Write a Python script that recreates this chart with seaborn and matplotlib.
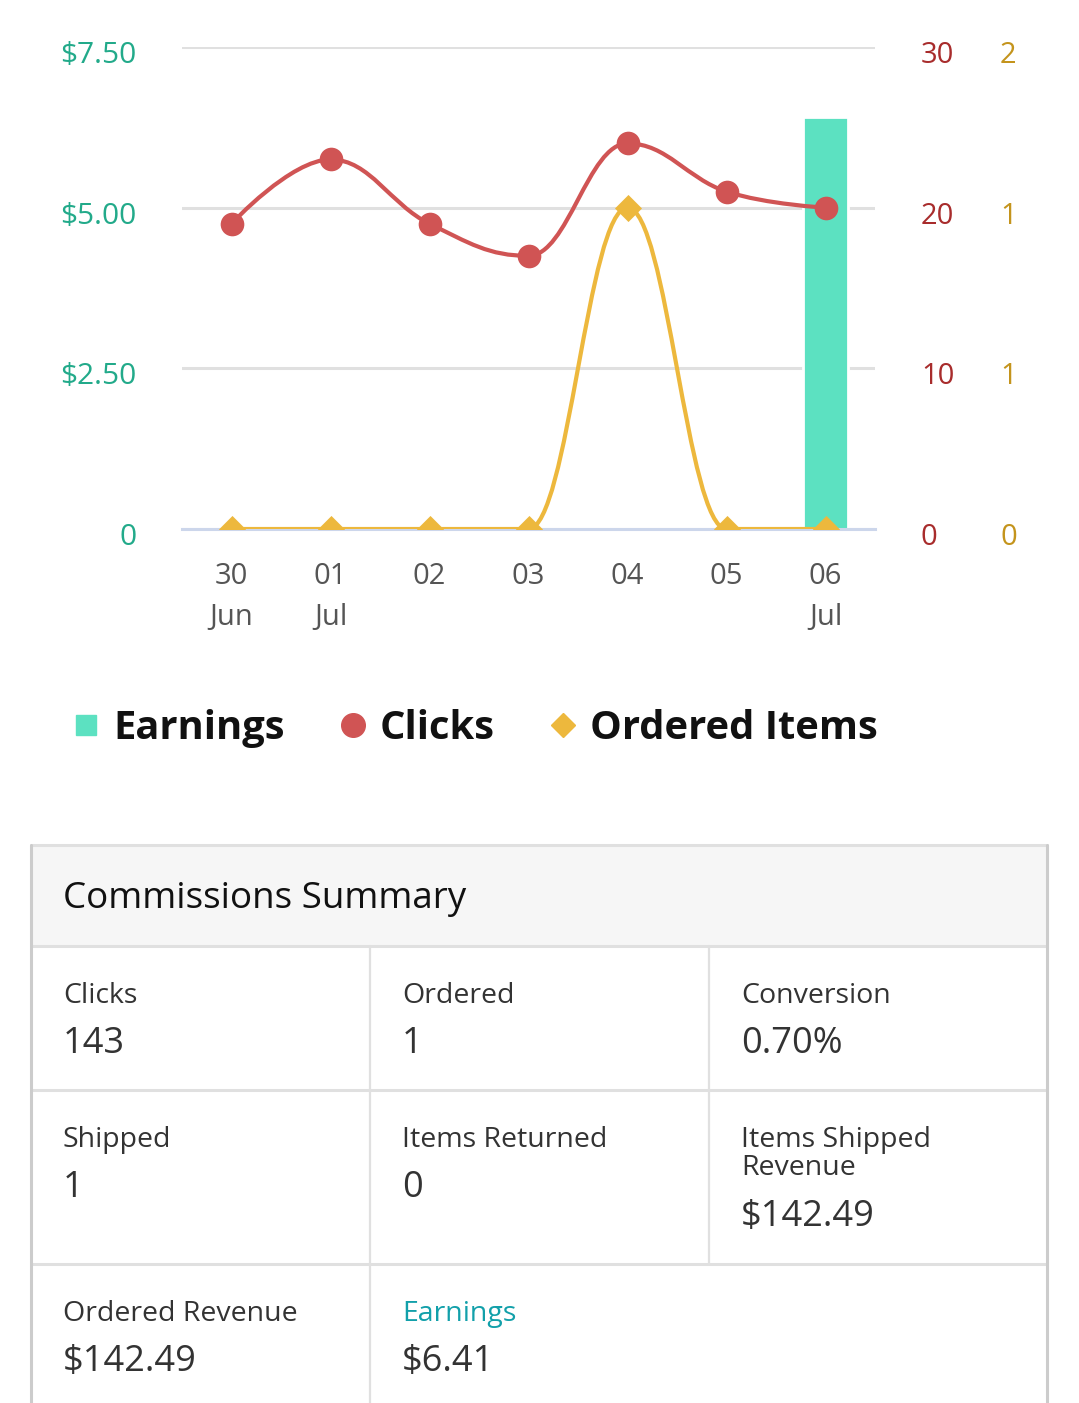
import numpy as np
import matplotlib
matplotlib.use("Agg")
import matplotlib.pyplot as plt
import matplotlib.transforms as mtransforms
import seaborn as sns
from matplotlib.path import Path
from matplotlib.patches import PathPatch, Rectangle
from matplotlib.lines import Line2D

# 数据
dates = ["30\nJun", "01\nJul", "02", "03", "04", "05", "06\nJul"]
earnings = [0, 0, 0, 0, 0, 0, 6.41]
clicks = [19, 23, 19, 17, 24, 21, 20]
ordered_items = [0, 0, 0, 0, 1, 0, 0]

earn_ticks = [0, 2.5, 5, 7.5]
earn_labels = ["0", "$2.50", "$5.00", "$7.50"]
click_ticks = [0, 10, 20, 30]
item_ticks = [0, 0.5, 1, 1.5]
item_labels = ["0", "1", "1", "2"]

summary_labels = ["Clicks", "Ordered", "Conversion",
                  "Shipped", "Items Returned", "Items Shipped\nRevenue",
                  "Ordered Revenue", "Earnings"]
summary_values = ["143", "1", "0.70%",
                  "1", "0", "$142.49",
                  "$142.49", "$6.41"]

# 颜色
c_bar = "#5ce1c1"
c_click = "#d05454"
c_item = "#edb83d"
c_left = "#22aa8a"
c_right1 = "#a82c2c"
c_right2 = "#c4941c"

sns.set_theme(style="white")
plt.rcParams["font.family"] = ["Open Sans", "DejaVu Sans"]

W, H = 1079, 1403
fig = plt.figure(figsize=(W / 100, H / 100), dpi=100)

top, bottom, left, right = 47, 529, 182, 875
ax = fig.add_axes([left / W, 1 - bottom / H, (right - left) / W, (bottom - top) / H])


def spline_path(xs, ys, smoothing=1.5):
    # highcharts 风格的平滑曲线控制点
    n = len(xs)
    lc = [None] * n
    rc = [None] * n
    den = smoothing + 1
    for i in range(1, n - 1):
        x, y = xs[i], ys[i]
        lx, ly = xs[i - 1], ys[i - 1]
        nx, ny = xs[i + 1], ys[i + 1]
        lcx = (smoothing * x + lx) / den
        lcy = (smoothing * y + ly) / den
        rcx = (smoothing * x + nx) / den
        rcy = (smoothing * y + ny) / den
        corr = (rcy - lcy) * (rcx - x) / (rcx - lcx) + y - rcy
        lcy += corr
        rcy += corr
        if lcy > ly and lcy > y:
            lcy = max(ly, y)
            rcy = 2 * y - lcy
        elif lcy < ly and lcy < y:
            lcy = min(ly, y)
            rcy = 2 * y - lcy
        if rcy > ny and rcy > y:
            rcy = max(ny, y)
            lcy = 2 * y - rcy
        elif rcy < ny and rcy < y:
            rcy = min(ny, y)
            lcy = 2 * y - rcy
        lc[i] = (lcx, lcy)
        rc[i] = (rcx, rcy)
    verts = [(xs[0], ys[0])]
    codes = [Path.MOVETO]
    for i in range(1, n):
        c1 = rc[i - 1] if rc[i - 1] is not None else (xs[i - 1], ys[i - 1])
        c2 = lc[i] if lc[i] is not None else (xs[i], ys[i])
        verts += [c1, c2, (xs[i], ys[i])]
        codes += [Path.CURVE4] * 3
    return Path(verts, codes)


def shift_ylabels(a, dy_px):
    off = mtransforms.ScaledTranslation(0, -dy_px / 100, fig.dpi_scale_trans)
    for t in a.yaxis.get_major_ticks():
        t.label1.set_transform(t.label1.get_transform() + off)
        t.label2.set_transform(t.label2.get_transform() + off)


xpos = list(range(len(dates)))

# 收益柱状图（左轴）
sns.barplot(x=dates, y=earnings, ax=ax, color=c_bar, width=0.45,
            edgecolor="white", linewidth=2, saturation=1)
ax.set_xlim(-0.5, 6.5)
ax.set_ylim(0, 7.5)
ax.set_yticks(earn_ticks)
ax.set_yticklabels(earn_labels)
ax.set_axisbelow(True)
ax.yaxis.grid(True, color="#e0e0e0", linewidth=2.2)
ax.xaxis.grid(False)
for s in ["top", "right", "left"]:
    ax.spines[s].set_visible(False)
ax.spines["bottom"].set_color("#ccd6eb")
ax.spines["bottom"].set_linewidth(2.2)
ax.spines["bottom"].set_zorder(5)
ax.set_xlabel("")
ax.set_ylabel("")
ax.tick_params(axis="y", length=0, pad=33, labelsize=21.5, labelcolor=c_left)
ax.tick_params(axis="x", length=0, pad=23.5, labelsize=21, labelcolor="#555555")
for lbl in ax.get_xticklabels():
    lbl.set_linespacing(1.56)

# 点击量（右轴1）
ax2 = ax.twinx()
ax2.set_ylim(0, 30)
ax2.add_patch(PathPatch(spline_path(xpos, clicks), fill=False, edgecolor=c_click,
                        linewidth=3, capstyle="round", joinstyle="round", zorder=3))
sns.scatterplot(x=xpos, y=clicks, ax=ax2, color=c_click, s=290, marker="o",
                linewidth=0, zorder=4, legend=False)
ax2.set_yticks(click_ticks)
ax2.set_yticklabels([str(t) for t in click_ticks])
ax2.tick_params(axis="y", length=0, pad=33, labelsize=21, labelcolor=c_right1)
ax2.grid(False)
for s in ax2.spines.values():
    s.set_visible(False)
ax2.set_ylabel("")

# 订购商品（右轴2）
ax3 = ax.twinx()
ax3.set_ylim(0, 1.5)
ax3.add_patch(PathPatch(spline_path(xpos, ordered_items), fill=False, edgecolor=c_item,
                        linewidth=3, capstyle="round", joinstyle="round", zorder=3))
sns.scatterplot(x=xpos, y=ordered_items, ax=ax3, color=c_item, s=190, marker="D",
                linewidth=0, zorder=4, legend=False)
ax3.set_yticks(item_ticks)
ax3.set_yticklabels(item_labels)
ax3.tick_params(axis="y", length=0, pad=90, labelsize=21, labelcolor=c_right2)
ax3.grid(False)
for s in ax3.spines.values():
    s.set_visible(False)
ax3.set_ylabel("")
ax3.set_xlim(-0.5, 6.5)

for a in (ax, ax2, ax3):
    shift_ylabels(a, 5)

# 图例
handles = [
    Line2D([], [], marker="s", linestyle="none", color=c_bar, markersize=14),
    Line2D([], [], marker="o", linestyle="none", color=c_click, markersize=17),
    Line2D([], [], marker="D", linestyle="none", color=c_item, markersize=12),
]
fig.legend(handles, ["Earnings", "Clicks", "Ordered Items"], ncol=3,
           loc="center", bbox_to_anchor=(476 / W, 1 - 728 / H), frameon=False,
           prop={"size": 28.7, "weight": "bold"}, labelcolor="#111111",
           handlelength=0.6, handletextpad=0.38, columnspacing=1.4, borderpad=0)

# 汇总表格
tab = fig.add_axes([0, 0, 1, 1], zorder=-1)
tab.set_xlim(0, W)
tab.set_ylim(H, 0)
tab.axis("off")

box_l, box_r = 31, 1047
head_t, head_b = 845, 946
row_lines = [946, 1090, 1264]
line_c = "#e0e0e0"

tab.add_patch(Rectangle((box_l, head_t), box_r - box_l, head_b - head_t,
                        facecolor="#f6f6f6", edgecolor="none"))
tab.plot([box_l, box_r], [head_t, head_t], color=line_c, lw=2.2)
for y in row_lines:
    tab.plot([box_l, box_r], [y, y], color=line_c, lw=2.2)
tab.plot([box_l, box_l], [head_t, H], color="#cccccc", lw=2.2)
tab.plot([box_r, box_r], [head_t, H], color="#cccccc", lw=2.2)
tab.plot([370, 370], [head_b, H], color=line_c, lw=1.6)
tab.plot([709, 709], [head_b, 1264], color=line_c, lw=1.6)

tab.text(63, 899, "Commissions Summary", fontsize=26.5, color="#111111",
         va="center", ha="left")

col_x = [63, 402, 741]
label_y = [996, 1140, 1314]
for i, (lab, val) in enumerate(zip(summary_labels, summary_values)):
    r, c = divmod(i, 3)
    ly = label_y[r]
    lab_color = "#12a0aa" if lab == "Earnings" else "#333333"
    if "\n" in lab:
        tab.text(col_x[c], ly - 14, lab, fontsize=20.5, color=lab_color,
                 va="top", ha="left", linespacing=1.0)
        vy = ly + 77
    else:
        tab.text(col_x[c], ly, lab, fontsize=20.5, color=lab_color,
                 va="center", ha="left")
        vy = ly + 48
    tab.text(col_x[c], vy, val, fontsize=26, color="#333333",
             va="center", ha="left")

fig.savefig("out.png", dpi=100)
